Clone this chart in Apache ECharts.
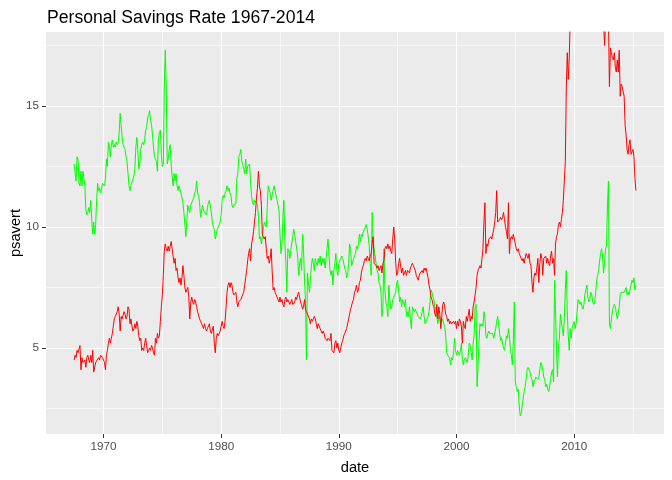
<!DOCTYPE html>
<html>
<head>
<meta charset="utf-8">
<script src="https://cdn.jsdelivr.net/npm/echarts@6/dist/echarts.min.js"></script>
<style>
  html, body { margin: 0; padding: 0; background: #fff; }
  #main { width: 672px; height: 480px; }
</style>
</head>
<body>
<div id="main"></div>
<script>
// monthly series, first value is July 1967
var startYear = 1967;
var startMonth = 7;

// personal savings rate (green)
var psavert = [
  12.6, 12.6, 11.9, 12.9, 12.8, 11.8,
  11.7, 12.3, 11.7, 12.3, 12.0, 11.7, 10.7, 10.5, 10.6, 10.8, 10.6, 11.1,
  10.3, 9.7, 10.2, 9.7, 10.1, 11.1, 11.8, 11.5, 11.6, 11.4, 11.6, 11.8,
  11.8, 11.7, 12.0, 12.8, 12.5, 13.5, 13.3, 12.9, 13.4, 13.6, 13.3, 13.4,
  13.3, 13.5, 13.4, 13.5, 13.9, 14.7, 14.2, 13.7, 13.4, 13.3, 13.2, 12.9,
  12.7, 12.2, 11.7, 11.5, 11.7, 11.7, 11.7, 12.1, 12.4, 13.3, 13.7, 13.2,
  12.4, 12.6, 13.2, 13.4, 13.5, 13.4, 13.6, 14.0, 14.1, 14.5, 14.6, 14.8,
  14.4, 14.2, 13.8, 13.3, 12.9, 12.8, 12.7, 12.3, 13.6, 13.9, 14.0, 13.0,
  12.5, 12.6, 15.7, 17.3, 15.7, 12.6, 12.8, 13.2, 13.4, 12.6, 12.1, 11.7,
  12.2, 11.9, 12.2, 11.7, 11.5, 11.7, 11.7, 11.4, 11.2, 11.0, 10.6, 10.6,
  9.6, 10.3, 10.9, 10.7, 10.6, 10.9, 11.0, 11.1, 11.2, 11.4, 11.5, 11.9,
  11.4, 11.3, 11.0, 10.4, 10.4, 10.9, 10.7, 10.6, 10.6, 10.5, 10.8, 11.0,
  11.1, 11.1, 10.6, 10.2, 10.0, 9.9, 9.5, 9.7, 9.9, 10.0, 10.0, 10.2,
  10.5, 11.1, 11.3, 11.2, 11.4, 11.5, 11.7, 11.5, 11.6, 11.4, 11.3, 10.9,
  10.8, 10.9, 10.9, 11.0, 12.0, 12.2, 12.9, 13.0, 13.2, 12.7, 12.6, 12.4,
  12.2, 12.8, 12.2, 12.5, 12.5, 12.6, 11.8, 11.3, 11.0, 10.9, 11.1, 11.1,
  11.0, 10.9, 10.4, 9.5, 9.6, 9.3, 9.6, 9.9, 10.2, 10.2, 10.0, 10.8,
  11.7, 11.5, 11.4, 11.1, 11.3, 11.5, 11.7, 11.7, 11.7, 11.1, 10.9, 10.7,
  9.7, 8.9, 9.3, 10.4, 11.1, 9.3, 8.5, 7.3, 9.1, 9.0, 8.7, 9.0,
  9.3, 9.6, 9.9, 9.7, 9.4, 9.1, 8.8, 8.0, 8.5, 8.7, 8.2, 9.7,
  9.1, 7.8, 7.0, 4.5, 8.1, 7.7, 7.3, 7.8, 8.4, 8.7, 8.5, 8.2,
  8.7, 8.5, 8.4, 8.7, 8.5, 8.8, 8.4, 8.7, 8.5, 8.7, 8.3, 8.7,
  9.1, 9.5, 8.8, 8.2, 8.0, 8.2, 7.6, 8.2, 8.5, 8.9, 8.2, 8.0,
  8.5, 8.5, 8.7, 8.8, 8.7, 8.5, 8.3, 8.2, 7.9, 8.0, 8.5, 9.3,
  9.1, 8.4, 8.5, 8.7, 8.7, 8.9, 9.2, 9.1, 9.3, 9.7, 9.4, 9.7,
  9.6, 9.8, 9.9, 10.0, 10.1, 9.9, 9.6, 9.2, 8.5, 8.0, 10.6, 9.5,
  9.1, 8.8, 8.5, 8.2, 8.1, 7.7, 7.6, 7.3, 6.3, 6.7, 9.1, 7.4,
  6.9, 6.7, 6.3, 7.6, 7.0, 6.6, 6.7, 7.0, 7.1, 7.1, 7.3, 7.7,
  7.8, 7.4, 6.9, 7.1, 6.7, 7.0, 6.9, 6.7, 7.0, 6.3, 6.5, 6.3,
  6.7, 6.2, 5.8, 6.7, 6.7, 6.5, 6.6, 6.5, 6.4, 6.3, 6.3, 6.2,
  6.3, 6.5, 6.7, 6.3, 6.0, 6.1, 6.2, 6.3, 6.5, 6.9, 7.4, 7.3,
  7.1, 7.0, 6.7, 6.6, 6.3, 6.0, 6.2, 6.3, 6.0, 6.0, 6.2, 6.0,
  5.9, 5.5, 4.8, 4.7, 4.7, 4.6, 4.3, 4.6, 4.5, 4.8, 5.4, 4.9,
  4.7, 4.9, 4.9, 4.7, 4.9, 5.2, 4.5, 4.3, 4.5, 4.6, 4.6, 4.4,
  4.7, 5.2, 5.1, 4.8, 4.5, 5.2, 5.5, 6.7, 6.8, 3.4, 4.3, 5.3,
  6.0, 5.9, 6.0, 5.9, 6.5, 6.3, 5.5, 5.4, 5.6, 5.7, 5.6, 5.6,
  5.6, 5.6, 5.4, 5.4, 5.8, 6.1, 6.3, 6.0, 5.6, 5.3, 5.4, 5.2,
  5.0, 4.9, 5.2, 5.5, 5.4, 5.8, 5.5, 4.9, 4.7, 4.3, 5.3, 6.9,
  3.6, 3.4, 3.2, 3.3, 2.6, 2.2, 2.3, 2.6, 2.9, 3.2, 3.4, 3.7,
  4.1, 4.2, 4.1, 4.0, 3.8, 3.7, 3.4, 3.6, 3.7, 3.8, 3.8, 3.7,
  3.8, 4.1, 4.4, 4.3, 4.1, 3.8, 3.7, 3.4, 3.5, 3.3, 3.2, 3.4,
  3.7, 4.0, 4.1, 3.6, 7.8, 6.6, 4.9, 3.8, 5.1, 5.4, 6.4, 6.4,
  5.8, 5.5, 6.2, 7.4, 8.2, 6.5, 5.5, 4.9, 5.8, 5.4, 5.8, 6.0,
  6.1, 5.8, 6.0, 6.5, 7.0, 6.9, 6.8, 6.9, 6.7, 6.6, 6.8, 7.2,
  7.4, 7.6, 7.1, 6.9, 7.0, 7.3, 7.2, 6.9, 6.8, 6.9, 7.3, 7.8,
  8.0, 8.2, 8.6, 8.9, 9.1, 8.8, 8.1, 8.5, 9.1, 9.2, 10.9, 11.9,
  6.0, 5.8, 6.2, 6.5, 6.7, 6.8, 6.7, 6.7, 6.2, 6.2, 6.7, 7.2,
  7.3, 7.3, 7.3, 7.3, 7.4, 7.5, 7.2, 7.3, 7.2, 7.4, 7.6, 7.8,
  7.7, 7.9, 7.4, 7.6
];

// median weeks unemployed (red)
var uempmed = [
  4.5, 4.7, 4.6, 4.9, 4.8, 4.8,
  5.1, 4.1, 4.6, 4.4, 4.4, 4.5, 4.2, 4.6, 4.7, 4.5, 4.4, 4.7,
  4.4, 4.9, 4.0, 4.0, 4.4, 4.4, 4.4, 4.6, 4.5, 4.7, 4.7, 4.6,
  4.5, 4.4, 4.1, 4.7, 4.9, 5.2, 5.4, 5.2, 5.4, 5.6, 5.9, 6.2,
  6.3, 6.4, 6.5, 6.7, 6.4, 5.7, 6.3, 6.2, 6.2, 6.5, 6.4, 6.2,
  6.3, 6.7, 6.6, 6.0, 6.2, 5.9, 5.7, 5.8, 6.0, 5.8, 6.1, 5.9,
  5.5, 5.3, 5.4, 4.9, 5.0, 4.9, 5.2, 5.4, 5.1, 4.8, 4.9, 5.0,
  4.9, 5.1, 5.0, 4.8, 4.7, 5.4, 5.2, 5.6, 5.4, 5.5, 6.1, 6.7,
  7.2, 8.0, 9.0, 9.3, 9.1, 9.0, 9.2, 9.0, 9.2, 9.4, 9.1, 8.8,
  8.5, 8.7, 8.2, 8.3, 7.9, 7.7, 7.9, 7.6, 7.9, 8.4, 8.0, 7.5,
  7.3, 7.3, 7.5, 7.1, 6.2, 6.9, 7.1, 6.9, 6.8, 7.0, 6.9, 6.7,
  6.5, 6.5, 6.2, 6.1, 6.0, 5.9, 5.8, 6.0, 5.8, 5.7, 5.8, 5.9,
  6.0, 5.7, 5.6, 5.6, 5.9, 5.2, 4.8, 5.4, 5.6, 5.5, 5.5, 5.7,
  5.9, 6.1, 5.9, 5.8, 6.1, 6.7, 7.3, 7.6, 7.7, 7.5, 7.7, 7.6,
  7.3, 7.2, 7.2, 7.3, 6.9, 6.7, 6.9, 6.9, 7.0, 7.0, 7.0, 7.3,
  7.6, 7.9, 8.2, 8.6, 8.9, 9.1, 8.6, 9.3, 9.5, 9.8, 10.2, 10.6,
  11.2, 11.6, 12.3, 11.7, 11.5, 10.9, 9.7, 9.6, 9.5, 9.6, 9.1, 8.7,
  8.8, 8.5, 8.7, 9.1, 8.2, 7.4, 7.5, 7.3, 7.2, 7.1, 7.0, 6.9,
  7.1, 6.9, 7.0, 6.8, 6.7, 7.0, 7.1, 6.9, 7.0, 6.9, 6.8, 6.8,
  7.0, 6.8, 6.8, 6.9, 7.1, 7.0, 7.2, 7.3, 7.1, 6.9, 6.8, 6.6,
  6.7, 7.0, 6.6, 6.5, 6.4, 6.4, 6.2, 6.0, 6.2, 6.1, 6.2, 6.3,
  6.2, 6.0, 5.8, 6.0, 6.0, 5.8, 5.7, 5.6, 5.7, 5.6, 5.4, 5.4,
  5.3, 5.4, 5.4, 5.3, 5.6, 4.9, 4.9, 4.8, 5.2, 5.3, 5.0, 5.2,
  4.9, 4.8, 5.0, 5.2, 5.3, 5.5, 5.6, 5.7, 5.8, 6.0, 6.2, 6.4,
  6.6, 6.6, 6.9, 7.0, 7.3, 7.4, 7.6, 7.3, 7.4, 7.7, 7.8, 8.1,
  8.3, 8.4, 8.6, 8.7, 8.6, 8.8, 8.7, 8.6, 8.8, 8.9, 9.3, 9.6,
  8.5, 8.5, 8.4, 8.3, 8.4, 8.2, 8.3, 8.4, 8.1, 8.5, 8.6, 9.1,
  9.2, 9.1, 9.3, 9.1, 9.2, 9.0, 8.9, 9.5, 10.0, 9.5, 8.5, 8.0,
  8.1, 8.5, 8.7, 8.7, 8.1, 8.3, 8.0, 8.1, 8.2, 8.0, 8.2, 8.2,
  8.1, 8.3, 8.4, 8.5, 8.4, 8.4, 8.2, 8.0, 7.9, 7.8, 8.0, 8.1,
  8.1, 8.2, 8.1, 8.3, 8.2, 8.3, 8.1, 7.9, 7.6, 7.4, 7.1, 7.0,
  6.8, 6.7, 6.4, 6.3, 6.8, 6.2, 6.7, 6.4, 5.8, 6.3, 6.8, 6.9,
  6.7, 6.4, 6.3, 6.1, 6.2, 6.0, 6.1, 6.0, 6.0, 6.1, 6.0, 6.1,
  5.8, 6.1, 5.9, 6.2, 6.1, 5.9, 5.2, 6.1, 5.9, 5.8, 6.3, 6.1,
  6.1, 6.6, 6.1, 6.3, 6.2, 6.7, 6.9, 7.2, 7.5, 8.0, 8.2, 8.3,
  8.4, 8.3, 8.7, 9.1, 10.2, 11.0, 8.9, 9.3, 9.2, 9.5, 9.5, 9.6,
  9.5, 9.5, 9.9, 10.2, 10.6, 11.5, 10.2, 10.2, 10.3, 10.4, 10.3, 10.4,
  10.6, 10.3, 10.0, 9.8, 9.5, 11.0, 8.9, 9.5, 9.6, 9.5, 9.7, 9.5,
  9.3, 9.1, 9.0, 9.1, 8.9, 8.8, 8.8, 8.6, 8.7, 8.5, 8.7, 8.9,
  8.9, 8.7, 8.9, 8.5, 8.4, 7.7, 7.3, 7.9, 8.1, 8.0, 8.3, 8.7,
  7.7, 8.5, 8.9, 8.7, 8.0, 8.7, 8.7, 8.8, 8.5, 8.7, 8.5, 8.4,
  8.8, 9.0, 8.5, 8.7, 8.0, 9.3, 9.6, 9.7, 10.1, 10.2, 10.0, 10.3,
  10.6, 11.1, 11.9, 12.7, 15.7, 17.2, 16.1, 17.0, 18.6, 18.9, 19.8, 20.1,
  20.0, 19.9, 20.4, 22.1, 22.3, 25.2, 22.3, 21.0, 20.3, 21.2, 21.0, 21.9,
  21.5, 21.1, 21.5, 20.9, 21.6, 22.4, 22.0, 22.4, 22.0, 20.6, 20.8, 20.5,
  20.8, 19.7, 19.2, 19.1, 19.9, 20.4, 18.6, 17.5, 18.4, 18.8, 19.9, 18.6,
  15.8, 17.4, 17.2, 17.0, 16.9, 17.2, 16.6, 16.4, 16.9, 16.4, 17.3, 15.4,
  15.9, 15.8, 15.6, 15.4, 14.2, 13.8, 13.2, 13.0, 13.4, 13.6, 13.0, 13.1,
  13.2, 12.9, 12.0, 11.5
];

var xMajor = [1970, 1980, 1990, 2000, 2010];
var xMinor = [1975, 1985, 1995, 2005, 2015];
var yMajor = [5, 10, 15];
var yMinor = [2.5, 7.5, 12.5, 17.5];

function monthToYear(i) {
  return startYear + (startMonth - 1 + i) / 12;
}

var greenData = psavert.map(function(v, i) { return [monthToYear(i), v]; });
var redData = uempmed.map(function(v, i) { return [monthToYear(i), v]; });

// ggplot style limits: range of the data plus 5% each side (y from psavert)
var x0 = monthToYear(0), x1 = monthToYear(psavert.length - 1);
var xPad = (x1 - x0) * 0.05;
var yLo = Math.min.apply(null, psavert), yHi = Math.max.apply(null, psavert);
var yPad = (yHi - yLo) * 0.05;

var font = 'Liberation Sans, Arial, sans-serif';

var chart = echarts.init(document.getElementById('main'), null, { renderer: 'canvas' });

var option = {
  animation: false,
  backgroundColor: '#ffffff',
  title: {
    text: 'Personal Savings Rate 1967-2014',
    left: 42,
    top: 4,
    textStyle: { fontFamily: font, fontSize: 17.6, fontWeight: 'normal', color: '#000000' }
  },
  grid: {
    left: 46, right: 8, top: 32, bottom: 46,
    show: true, backgroundColor: '#EBEBEB', borderWidth: 0,
    containLabel: false,
    outerBoundsMode: 'none'
  },
  xAxis: [{
    type: 'value',
    min: x0 - xPad, max: x1 + xPad,
    name: 'date', nameLocation: 'middle', nameGap: 26, nameMoveOverlap: false,
    nameTextStyle: { fontFamily: font, fontSize: 14.7, color: '#000000' },
    axisLine: { show: false },
    axisTick: { show: true, length: 4, customValues: xMajor, lineStyle: { color: '#333333', width: 1 } },
    axisLabel: { customValues: xMajor, color: '#4D4D4D', fontFamily: font, fontSize: 11.7, margin: 7,
      formatter: function(v) { return String(Math.round(v)); } },
    splitLine: { show: true, lineStyle: { color: '#ffffff', width: 1.1 } }
  }, {
    type: 'value',
    min: x0 - xPad, max: x1 + xPad,
    axisLine: { show: false },
    axisTick: { show: false, customValues: xMinor },
    axisLabel: { show: false, customValues: xMinor },
    splitLine: { show: true, lineStyle: { color: '#ffffff', width: 0.55 } }
  }],
  yAxis: [{
    type: 'value',
    min: yLo - yPad, max: yHi + yPad,
    name: 'psavert', nameLocation: 'middle', nameGap: 23, nameRotate: 90, nameMoveOverlap: false,
    nameTextStyle: { fontFamily: font, fontSize: 14.7, color: '#000000' },
    axisLine: { show: false },
    axisTick: { show: true, length: 4, customValues: yMajor, lineStyle: { color: '#333333', width: 1 } },
    axisLabel: { customValues: yMajor, color: '#4D4D4D', fontFamily: font, fontSize: 11.7, margin: 7,
      formatter: function(v) { return String(Math.round(v)); } },
    splitLine: { show: true, lineStyle: { color: '#ffffff', width: 1.1 } }
  }, {
    type: 'value',
    min: yLo - yPad, max: yHi + yPad,
    axisLine: { show: false },
    axisTick: { show: false, customValues: yMinor },
    axisLabel: { show: false, customValues: yMinor },
    splitLine: { show: true, lineStyle: { color: '#ffffff', width: 0.55 } }
  }],
  series: [{
    name: 'psavert',
    type: 'line',
    data: greenData,
    showSymbol: false,
    clip: true,
    lineStyle: { color: '#00FF00', width: 1 },
    z: 3
  }, {
    name: 'uempmed',
    type: 'line',
    data: redData,
    showSymbol: false,
    clip: true,
    lineStyle: { color: '#FF0000', width: 1 },
    z: 4
  }]
};

option && chart.setOption(option);
</script>
</body>
</html>
